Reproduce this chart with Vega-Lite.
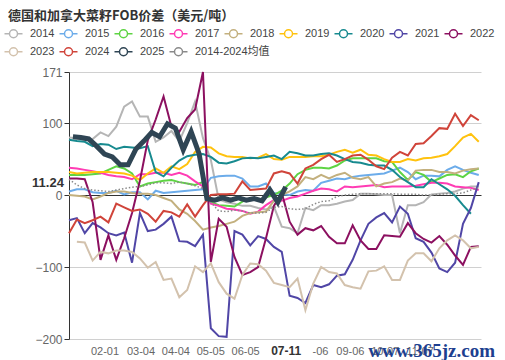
{
"$schema":"https://vega.github.io/schema/vega-lite/v6.json",
"width":412,"height":267,
"autosize":{"type":"none"},
"padding":{"left":69,"top":72,"right":24,"bottom":21},
"background":"white",
"title":{"text":"德国和加拿大菜籽FOB价差（美元/吨）","anchor":"start","frame":"group","dx":-61,"offset":5,"font":"Noto Sans CJK SC","fontSize":13,"fontWeight":"bold","color":"#333"},
"config":{"view":{"stroke":null},"font":"Liberation Sans","legend":{"orient":"none","direction":"horizontal","padding":0,"symbolType":"M-2.25,0H-1M1,0H2.25M-1,0A1,1,0,1,1,1,0A1,1,0,1,1,-1,0","symbolSize":64,"symbolStrokeWidth":1.5,"symbolFillColor":"white","labelFont":"Liberation Sans, Noto Sans CJK SC, sans-serif","labelFontSize":11,"labelColor":"#444","labelOffset":11,"columnPadding":1}},
"data":{"values":[
{"s":"2014","d":0,"v":80},{"s":"2014","d":7,"v":79},{"s":"2014","d":14,"v":77},{"s":"2014","d":21,"v":78},{"s":"2014","d":28,"v":87},{"s":"2014","d":35,"v":82},{"s":"2014","d":42,"v":95},{"s":"2014","d":49,"v":123},{"s":"2014","d":56,"v":130},{"s":"2014","d":63,"v":109},{"s":"2014","d":70,"v":109},{"s":"2014","d":77,"v":74},{"s":"2014","d":84,"v":80},{"s":"2014","d":91,"v":89},{"s":"2014","d":98,"v":75},{"s":"2014","d":105,"v":100},{"s":"2014","d":112,"v":130},{"s":"2014","d":119,"v":79},{"s":"2014","d":126,"v":49},{"s":"2014","d":133,"v":-6},{"s":"2014","d":140,"v":-10},{"s":"2014","d":147,"v":-12},{"s":"2014","d":154,"v":-15},{"s":"2014","d":161,"v":-15},{"s":"2014","d":168,"v":-18},{"s":"2014","d":175,"v":-20},{"s":"2014","d":182,"v":-16},{"s":"2014","d":189,"v":-44},{"s":"2014","d":196,"v":-46},{"s":"2014","d":203,"v":-53},{"s":"2014","d":210,"v":-18},{"s":"2014","d":217,"v":-21},{"s":"2014","d":224,"v":-14},{"s":"2014","d":231,"v":-14},{"s":"2014","d":238,"v":-12},{"s":"2014","d":245,"v":-9},{"s":"2014","d":252,"v":-7},{"s":"2014","d":259,"v":2},{"s":"2014","d":266,"v":2},{"s":"2014","d":273,"v":1},{"s":"2014","d":280,"v":0},{"s":"2014","d":287,"v":0},{"s":"2014","d":294,"v":-53},{"s":"2014","d":301,"v":-14},{"s":"2014","d":308,"v":-14},{"s":"2014","d":315,"v":-10},{"s":"2014","d":322,"v":1},{"s":"2014","d":329,"v":2},{"s":"2014","d":336,"v":3},{"s":"2014","d":343,"v":5},{"s":"2014","d":350,"v":9},{"s":"2014","d":357,"v":12},{"s":"2014","d":364,"v":12},
{"s":"2015","d":0,"v":5},{"s":"2015","d":7,"v":8},{"s":"2015","d":14,"v":8},{"s":"2015","d":21,"v":4},{"s":"2015","d":28,"v":3},{"s":"2015","d":35,"v":3},{"s":"2015","d":42,"v":6},{"s":"2015","d":49,"v":1},{"s":"2015","d":56,"v":4},{"s":"2015","d":63,"v":4},{"s":"2015","d":70,"v":-6},{"s":"2015","d":77,"v":6},{"s":"2015","d":84,"v":3},{"s":"2015","d":91,"v":4},{"s":"2015","d":98,"v":5},{"s":"2015","d":105,"v":6},{"s":"2015","d":112,"v":7},{"s":"2015","d":119,"v":8},{"s":"2015","d":126,"v":24},{"s":"2015","d":133,"v":26},{"s":"2015","d":140,"v":27},{"s":"2015","d":147,"v":27},{"s":"2015","d":154,"v":23},{"s":"2015","d":161,"v":12},{"s":"2015","d":168,"v":12},{"s":"2015","d":175,"v":16},{"s":"2015","d":182,"v":3},{"s":"2015","d":189,"v":1},{"s":"2015","d":196,"v":0},{"s":"2015","d":203,"v":5},{"s":"2015","d":210,"v":7},{"s":"2015","d":217,"v":6},{"s":"2015","d":224,"v":17},{"s":"2015","d":231,"v":20},{"s":"2015","d":238,"v":23},{"s":"2015","d":245,"v":22},{"s":"2015","d":252,"v":25},{"s":"2015","d":259,"v":27},{"s":"2015","d":266,"v":28},{"s":"2015","d":273,"v":29},{"s":"2015","d":280,"v":30},{"s":"2015","d":287,"v":34},{"s":"2015","d":294,"v":38},{"s":"2015","d":301,"v":32},{"s":"2015","d":308,"v":22},{"s":"2015","d":315,"v":27},{"s":"2015","d":322,"v":27},{"s":"2015","d":329,"v":26},{"s":"2015","d":336,"v":35},{"s":"2015","d":343,"v":40},{"s":"2015","d":350,"v":35},{"s":"2015","d":357,"v":31},{"s":"2015","d":364,"v":28},
{"s":"2016","d":0,"v":28},{"s":"2016","d":7,"v":28},{"s":"2016","d":14,"v":28},{"s":"2016","d":21,"v":29},{"s":"2016","d":28,"v":30},{"s":"2016","d":35,"v":35},{"s":"2016","d":42,"v":40},{"s":"2016","d":49,"v":37},{"s":"2016","d":56,"v":30},{"s":"2016","d":63,"v":12},{"s":"2016","d":70,"v":16},{"s":"2016","d":77,"v":18},{"s":"2016","d":84,"v":20},{"s":"2016","d":91,"v":21},{"s":"2016","d":98,"v":18},{"s":"2016","d":105,"v":16},{"s":"2016","d":112,"v":14},{"s":"2016","d":119,"v":18},{"s":"2016","d":126,"v":-10},{"s":"2016","d":133,"v":-14},{"s":"2016","d":140,"v":-15},{"s":"2016","d":147,"v":-16},{"s":"2016","d":154,"v":-9},{"s":"2016","d":161,"v":-5},{"s":"2016","d":168,"v":-7},{"s":"2016","d":175,"v":-3},{"s":"2016","d":182,"v":0},{"s":"2016","d":189,"v":6},{"s":"2016","d":196,"v":16},{"s":"2016","d":203,"v":29},{"s":"2016","d":210,"v":35},{"s":"2016","d":217,"v":38},{"s":"2016","d":224,"v":38},{"s":"2016","d":231,"v":37},{"s":"2016","d":238,"v":41},{"s":"2016","d":245,"v":48},{"s":"2016","d":252,"v":51},{"s":"2016","d":259,"v":51},{"s":"2016","d":266,"v":51},{"s":"2016","d":273,"v":51},{"s":"2016","d":280,"v":47},{"s":"2016","d":287,"v":46},{"s":"2016","d":294,"v":32},{"s":"2016","d":301,"v":21},{"s":"2016","d":308,"v":32},{"s":"2016","d":315,"v":28},{"s":"2016","d":322,"v":18},{"s":"2016","d":329,"v":23},{"s":"2016","d":336,"v":28},{"s":"2016","d":343,"v":29},{"s":"2016","d":350,"v":25},{"s":"2016","d":357,"v":33},{"s":"2016","d":364,"v":37},
{"s":"2017","d":0,"v":38},{"s":"2017","d":7,"v":37},{"s":"2017","d":14,"v":35},{"s":"2017","d":21,"v":33},{"s":"2017","d":28,"v":31},{"s":"2017","d":35,"v":28},{"s":"2017","d":42,"v":26},{"s":"2017","d":49,"v":25},{"s":"2017","d":56,"v":22},{"s":"2017","d":63,"v":29},{"s":"2017","d":70,"v":29},{"s":"2017","d":77,"v":31},{"s":"2017","d":84,"v":31},{"s":"2017","d":91,"v":28},{"s":"2017","d":98,"v":31},{"s":"2017","d":105,"v":27},{"s":"2017","d":112,"v":19},{"s":"2017","d":119,"v":12},{"s":"2017","d":126,"v":-12},{"s":"2017","d":133,"v":-15},{"s":"2017","d":140,"v":-19},{"s":"2017","d":147,"v":-20},{"s":"2017","d":154,"v":-22},{"s":"2017","d":161,"v":-26},{"s":"2017","d":168,"v":-23},{"s":"2017","d":175,"v":-14},{"s":"2017","d":182,"v":-7},{"s":"2017","d":189,"v":-8},{"s":"2017","d":196,"v":-4},{"s":"2017","d":203,"v":-2},{"s":"2017","d":210,"v":2},{"s":"2017","d":217,"v":6},{"s":"2017","d":224,"v":9},{"s":"2017","d":231,"v":8},{"s":"2017","d":238,"v":5},{"s":"2017","d":245,"v":12},{"s":"2017","d":252,"v":11},{"s":"2017","d":259,"v":12},{"s":"2017","d":266,"v":13},{"s":"2017","d":273,"v":14},{"s":"2017","d":280,"v":11},{"s":"2017","d":287,"v":12},{"s":"2017","d":294,"v":12},{"s":"2017","d":301,"v":12},{"s":"2017","d":308,"v":13},{"s":"2017","d":315,"v":15},{"s":"2017","d":322,"v":17},{"s":"2017","d":329,"v":17},{"s":"2017","d":336,"v":16},{"s":"2017","d":343,"v":12},{"s":"2017","d":350,"v":11},{"s":"2017","d":357,"v":10},{"s":"2017","d":364,"v":7},
{"s":"2018","d":0,"v":0},{"s":"2018","d":7,"v":-1},{"s":"2018","d":14,"v":-2},{"s":"2018","d":21,"v":-6},{"s":"2018","d":28,"v":-2},{"s":"2018","d":35,"v":3},{"s":"2018","d":42,"v":5},{"s":"2018","d":49,"v":5},{"s":"2018","d":56,"v":3},{"s":"2018","d":63,"v":2},{"s":"2018","d":70,"v":2},{"s":"2018","d":77,"v":0},{"s":"2018","d":84,"v":-4},{"s":"2018","d":91,"v":-8},{"s":"2018","d":98,"v":-20},{"s":"2018","d":105,"v":-26},{"s":"2018","d":112,"v":-36},{"s":"2018","d":119,"v":-48},{"s":"2018","d":126,"v":-45},{"s":"2018","d":133,"v":-43},{"s":"2018","d":140,"v":-40},{"s":"2018","d":147,"v":-37},{"s":"2018","d":154,"v":-29},{"s":"2018","d":161,"v":-25},{"s":"2018","d":168,"v":-24},{"s":"2018","d":175,"v":-23},{"s":"2018","d":182,"v":-8},{"s":"2018","d":189,"v":0},{"s":"2018","d":196,"v":5},{"s":"2018","d":203,"v":12},{"s":"2018","d":210,"v":25},{"s":"2018","d":217,"v":22},{"s":"2018","d":224,"v":28},{"s":"2018","d":231,"v":23},{"s":"2018","d":238,"v":28},{"s":"2018","d":245,"v":31},{"s":"2018","d":252,"v":24},{"s":"2018","d":259,"v":22},{"s":"2018","d":266,"v":25},{"s":"2018","d":273,"v":12},{"s":"2018","d":280,"v":16},{"s":"2018","d":287,"v":18},{"s":"2018","d":294,"v":23},{"s":"2018","d":301,"v":20},{"s":"2018","d":308,"v":34},{"s":"2018","d":315,"v":35},{"s":"2018","d":322,"v":35},{"s":"2018","d":329,"v":32},{"s":"2018","d":336,"v":32},{"s":"2018","d":343,"v":30},{"s":"2018","d":350,"v":34},{"s":"2018","d":357,"v":36},{"s":"2018","d":364,"v":37},
{"s":"2019","d":0,"v":32},{"s":"2019","d":7,"v":30},{"s":"2019","d":14,"v":31},{"s":"2019","d":21,"v":32},{"s":"2019","d":28,"v":32},{"s":"2019","d":35,"v":32},{"s":"2019","d":42,"v":31},{"s":"2019","d":49,"v":30},{"s":"2019","d":56,"v":27},{"s":"2019","d":63,"v":21},{"s":"2019","d":70,"v":30},{"s":"2019","d":77,"v":37},{"s":"2019","d":84,"v":31},{"s":"2019","d":91,"v":40},{"s":"2019","d":98,"v":36},{"s":"2019","d":105,"v":43},{"s":"2019","d":112,"v":60},{"s":"2019","d":119,"v":67},{"s":"2019","d":126,"v":66},{"s":"2019","d":133,"v":58},{"s":"2019","d":140,"v":54},{"s":"2019","d":147,"v":53},{"s":"2019","d":154,"v":53},{"s":"2019","d":161,"v":51},{"s":"2019","d":168,"v":52},{"s":"2019","d":175,"v":57},{"s":"2019","d":182,"v":50},{"s":"2019","d":189,"v":49},{"s":"2019","d":196,"v":53},{"s":"2019","d":203,"v":53},{"s":"2019","d":210,"v":53},{"s":"2019","d":217,"v":54},{"s":"2019","d":224,"v":54},{"s":"2019","d":231,"v":56},{"s":"2019","d":238,"v":60},{"s":"2019","d":245,"v":63},{"s":"2019","d":252,"v":59},{"s":"2019","d":259,"v":63},{"s":"2019","d":266,"v":56},{"s":"2019","d":273,"v":55},{"s":"2019","d":280,"v":50},{"s":"2019","d":287,"v":46},{"s":"2019","d":294,"v":46},{"s":"2019","d":301,"v":50},{"s":"2019","d":308,"v":48},{"s":"2019","d":315,"v":51},{"s":"2019","d":322,"v":52},{"s":"2019","d":329,"v":54},{"s":"2019","d":336,"v":57},{"s":"2019","d":343,"v":68},{"s":"2019","d":350,"v":80},{"s":"2019","d":357,"v":85},{"s":"2019","d":364,"v":74},
{"s":"2020","d":0,"v":77},{"s":"2020","d":7,"v":75},{"s":"2020","d":14,"v":74},{"s":"2020","d":21,"v":68},{"s":"2020","d":28,"v":71},{"s":"2020","d":35,"v":70},{"s":"2020","d":42,"v":64},{"s":"2020","d":49,"v":67},{"s":"2020","d":56,"v":66},{"s":"2020","d":63,"v":65},{"s":"2020","d":70,"v":68},{"s":"2020","d":77,"v":32},{"s":"2020","d":84,"v":26},{"s":"2020","d":91,"v":38},{"s":"2020","d":98,"v":48},{"s":"2020","d":105,"v":54},{"s":"2020","d":112,"v":56},{"s":"2020","d":119,"v":57},{"s":"2020","d":126,"v":53},{"s":"2020","d":133,"v":45},{"s":"2020","d":140,"v":44},{"s":"2020","d":147,"v":47},{"s":"2020","d":154,"v":51},{"s":"2020","d":161,"v":52},{"s":"2020","d":168,"v":51},{"s":"2020","d":175,"v":53},{"s":"2020","d":182,"v":55},{"s":"2020","d":189,"v":50},{"s":"2020","d":196,"v":60},{"s":"2020","d":203,"v":58},{"s":"2020","d":210,"v":55},{"s":"2020","d":217,"v":55},{"s":"2020","d":224,"v":57},{"s":"2020","d":231,"v":58},{"s":"2020","d":238,"v":55},{"s":"2020","d":245,"v":50},{"s":"2020","d":252,"v":46},{"s":"2020","d":259,"v":45},{"s":"2020","d":266,"v":42},{"s":"2020","d":273,"v":41},{"s":"2020","d":280,"v":41},{"s":"2020","d":287,"v":35},{"s":"2020","d":294,"v":25},{"s":"2020","d":301,"v":18},{"s":"2020","d":308,"v":11},{"s":"2020","d":315,"v":11},{"s":"2020","d":322,"v":22},{"s":"2020","d":329,"v":15},{"s":"2020","d":336,"v":8},{"s":"2020","d":343,"v":-1},{"s":"2020","d":350,"v":-14},{"s":"2020","d":357,"v":-26},
{"s":"2021","d":0,"v":-35},{"s":"2021","d":7,"v":-32},{"s":"2021","d":14,"v":-53},{"s":"2021","d":21,"v":-39},{"s":"2021","d":28,"v":-45},{"s":"2021","d":35,"v":-53},{"s":"2021","d":42,"v":-56},{"s":"2021","d":49,"v":-52},{"s":"2021","d":56,"v":-94},{"s":"2021","d":63,"v":-25},{"s":"2021","d":70,"v":-50},{"s":"2021","d":77,"v":-48},{"s":"2021","d":84,"v":-40},{"s":"2021","d":91,"v":-30},{"s":"2021","d":98,"v":-64},{"s":"2021","d":105,"v":-65},{"s":"2021","d":112,"v":-71},{"s":"2021","d":119,"v":-55},{"s":"2021","d":126,"v":-185},{"s":"2021","d":133,"v":-196},{"s":"2021","d":140,"v":-197},{"s":"2021","d":147,"v":-50},{"s":"2021","d":154,"v":-55},{"s":"2021","d":161,"v":-70},{"s":"2021","d":168,"v":-57},{"s":"2021","d":175,"v":-61},{"s":"2021","d":182,"v":-72},{"s":"2021","d":189,"v":-79},{"s":"2021","d":196,"v":-140},{"s":"2021","d":203,"v":-143},{"s":"2021","d":210,"v":-150},{"s":"2021","d":217,"v":-125},{"s":"2021","d":224,"v":-128},{"s":"2021","d":231,"v":-124},{"s":"2021","d":238,"v":-112},{"s":"2021","d":245,"v":-110},{"s":"2021","d":252,"v":-90},{"s":"2021","d":259,"v":-63},{"s":"2021","d":266,"v":-40},{"s":"2021","d":273,"v":-31},{"s":"2021","d":280,"v":-25},{"s":"2021","d":287,"v":-38},{"s":"2021","d":294,"v":-16},{"s":"2021","d":301,"v":-26},{"s":"2021","d":308,"v":-60},{"s":"2021","d":315,"v":-65},{"s":"2021","d":322,"v":-80},{"s":"2021","d":329,"v":-102},{"s":"2021","d":336,"v":-107},{"s":"2021","d":343,"v":-94},{"s":"2021","d":350,"v":-40},{"s":"2021","d":357,"v":-18},{"s":"2021","d":364,"v":18},
{"s":"2022","d":0,"v":23},{"s":"2022","d":7,"v":23},{"s":"2022","d":14,"v":22},{"s":"2022","d":21,"v":-10},{"s":"2022","d":28,"v":-90},{"s":"2022","d":35,"v":-56},{"s":"2022","d":42,"v":-90},{"s":"2022","d":49,"v":-60},{"s":"2022","d":56,"v":-25},{"s":"2022","d":63,"v":20},{"s":"2022","d":70,"v":76},{"s":"2022","d":77,"v":105},{"s":"2022","d":84,"v":137},{"s":"2022","d":91,"v":95},{"s":"2022","d":98,"v":88},{"s":"2022","d":105,"v":107},{"s":"2022","d":112,"v":119},{"s":"2022","d":119,"v":171},{"s":"2022","d":126,"v":-93},{"s":"2022","d":133,"v":-33},{"s":"2022","d":140,"v":-44},{"s":"2022","d":147,"v":-86},{"s":"2022","d":154,"v":-111},{"s":"2022","d":161,"v":-107},{"s":"2022","d":168,"v":-100},{"s":"2022","d":175,"v":-60},{"s":"2022","d":182,"v":-15},{"s":"2022","d":189,"v":3},{"s":"2022","d":196,"v":-37},{"s":"2022","d":203,"v":-55},{"s":"2022","d":210,"v":-46},{"s":"2022","d":217,"v":-49},{"s":"2022","d":224,"v":-43},{"s":"2022","d":231,"v":-58},{"s":"2022","d":238,"v":-67},{"s":"2022","d":245,"v":-67},{"s":"2022","d":252,"v":-42},{"s":"2022","d":259,"v":-63},{"s":"2022","d":266,"v":-75},{"s":"2022","d":273,"v":-75},{"s":"2022","d":280,"v":-56},{"s":"2022","d":287,"v":-57},{"s":"2022","d":294,"v":-58},{"s":"2022","d":301,"v":-39},{"s":"2022","d":308,"v":-53},{"s":"2022","d":315,"v":-61},{"s":"2022","d":322,"v":-66},{"s":"2022","d":329,"v":-57},{"s":"2022","d":336,"v":-69},{"s":"2022","d":343,"v":-84},{"s":"2022","d":350,"v":-97},{"s":"2022","d":357,"v":-72},{"s":"2022","d":364,"v":-71},
{"s":"2023","d":7,"v":-65},{"s":"2023","d":14,"v":-66},{"s":"2023","d":21,"v":-91},{"s":"2023","d":28,"v":-79},{"s":"2023","d":35,"v":-81},{"s":"2023","d":42,"v":-77},{"s":"2023","d":49,"v":-77},{"s":"2023","d":56,"v":-79},{"s":"2023","d":63,"v":-88},{"s":"2023","d":70,"v":-101},{"s":"2023","d":77,"v":-93},{"s":"2023","d":84,"v":-118},{"s":"2023","d":91,"v":-116},{"s":"2023","d":98,"v":-142},{"s":"2023","d":105,"v":-132},{"s":"2023","d":112,"v":-99},{"s":"2023","d":119,"v":-107},{"s":"2023","d":126,"v":-95},{"s":"2023","d":133,"v":-121},{"s":"2023","d":140,"v":-137},{"s":"2023","d":147,"v":-144},{"s":"2023","d":154,"v":-111},{"s":"2023","d":161,"v":-95},{"s":"2023","d":168,"v":-96},{"s":"2023","d":175,"v":-105},{"s":"2023","d":182,"v":-122},{"s":"2023","d":189,"v":-125},{"s":"2023","d":196,"v":-128},{"s":"2023","d":203,"v":-116},{"s":"2023","d":210,"v":-160},{"s":"2023","d":217,"v":-123},{"s":"2023","d":224,"v":-100},{"s":"2023","d":231,"v":-107},{"s":"2023","d":238,"v":-109},{"s":"2023","d":245,"v":-125},{"s":"2023","d":252,"v":-128},{"s":"2023","d":259,"v":-130},{"s":"2023","d":266,"v":-106},{"s":"2023","d":273,"v":-105},{"s":"2023","d":280,"v":-99},{"s":"2023","d":287,"v":-118},{"s":"2023","d":294,"v":-118},{"s":"2023","d":301,"v":-91},{"s":"2023","d":308,"v":-81},{"s":"2023","d":315,"v":-81},{"s":"2023","d":322,"v":-92},{"s":"2023","d":329,"v":-74},{"s":"2023","d":336,"v":-63},{"s":"2023","d":343,"v":-56},{"s":"2023","d":350,"v":-63},{"s":"2023","d":357,"v":-74},{"s":"2023","d":364,"v":-72},
{"s":"2024","d":0,"v":-53},{"s":"2024","d":7,"v":-34},{"s":"2024","d":14,"v":-39},{"s":"2024","d":21,"v":-35},{"s":"2024","d":28,"v":-30},{"s":"2024","d":35,"v":-38},{"s":"2024","d":42,"v":-12},{"s":"2024","d":49,"v":-17},{"s":"2024","d":56,"v":-22},{"s":"2024","d":63,"v":-20},{"s":"2024","d":70,"v":-26},{"s":"2024","d":77,"v":-37},{"s":"2024","d":84,"v":-22},{"s":"2024","d":91,"v":-24},{"s":"2024","d":98,"v":-30},{"s":"2024","d":105,"v":-13},{"s":"2024","d":112,"v":-30},{"s":"2024","d":119,"v":-14},{"s":"2024","d":126,"v":0},{"s":"2024","d":133,"v":1},{"s":"2024","d":140,"v":1},{"s":"2024","d":147,"v":2},{"s":"2024","d":154,"v":19},{"s":"2024","d":161,"v":7},{"s":"2024","d":168,"v":8},{"s":"2024","d":175,"v":9},{"s":"2024","d":182,"v":30},{"s":"2024","d":189,"v":33},{"s":"2024","d":196,"v":30},{"s":"2024","d":203,"v":16},{"s":"2024","d":210,"v":37},{"s":"2024","d":217,"v":42},{"s":"2024","d":224,"v":50},{"s":"2024","d":231,"v":56},{"s":"2024","d":238,"v":46},{"s":"2024","d":245,"v":50},{"s":"2024","d":252,"v":55},{"s":"2024","d":259,"v":56},{"s":"2024","d":266,"v":49},{"s":"2024","d":273,"v":40},{"s":"2024","d":280,"v":36},{"s":"2024","d":287,"v":52},{"s":"2024","d":294,"v":60},{"s":"2024","d":301,"v":55},{"s":"2024","d":308,"v":71},{"s":"2024","d":315,"v":72},{"s":"2024","d":322,"v":82},{"s":"2024","d":329,"v":93},{"s":"2024","d":336,"v":92},{"s":"2024","d":343,"v":113},{"s":"2024","d":350,"v":96},{"s":"2024","d":357,"v":111},{"s":"2024","d":364,"v":104},
{"s":"2014-2024均值","d":0,"v":22},{"s":"2014-2024均值","d":7,"v":14},{"s":"2014-2024均值","d":14,"v":9},{"s":"2014-2024均值","d":21,"v":7},{"s":"2014-2024均值","d":28,"v":6},{"s":"2014-2024均值","d":35,"v":5},{"s":"2014-2024均值","d":42,"v":7},{"s":"2014-2024均值","d":49,"v":9},{"s":"2014-2024均值","d":56,"v":11},{"s":"2014-2024均值","d":63,"v":12},{"s":"2014-2024均值","d":70,"v":14},{"s":"2014-2024均值","d":77,"v":17},{"s":"2014-2024均值","d":84,"v":17},{"s":"2014-2024均值","d":91,"v":16},{"s":"2014-2024均值","d":98,"v":18},{"s":"2014-2024均值","d":105,"v":16},{"s":"2014-2024均值","d":112,"v":13},{"s":"2014-2024均值","d":119,"v":9},{"s":"2014-2024均值","d":126,"v":-10},{"s":"2014-2024均值","d":133,"v":-22},{"s":"2014-2024均值","d":140,"v":-23},{"s":"2014-2024均值","d":147,"v":-21},{"s":"2014-2024均值","d":154,"v":-22},{"s":"2014-2024均值","d":161,"v":-25},{"s":"2014-2024均值","d":168,"v":-25},{"s":"2014-2024均值","d":175,"v":-24},{"s":"2014-2024均值","d":182,"v":-17},{"s":"2014-2024均值","d":189,"v":-16},{"s":"2014-2024均值","d":196,"v":-19},{"s":"2014-2024均值","d":203,"v":-20},{"s":"2014-2024均值","d":210,"v":-19},{"s":"2014-2024均值","d":217,"v":-13},{"s":"2014-2024均值","d":224,"v":-9},{"s":"2014-2024均值","d":231,"v":-8},{"s":"2014-2024均值","d":238,"v":-2},{"s":"2014-2024均值","d":245,"v":0},{"s":"2014-2024均值","d":252,"v":1},{"s":"2014-2024均值","d":259,"v":2},{"s":"2014-2024均值","d":266,"v":2},{"s":"2014-2024均值","d":273,"v":2},{"s":"2014-2024均值","d":280,"v":2},{"s":"2014-2024均值","d":287,"v":2},{"s":"2014-2024均值","d":294,"v":1},{"s":"2014-2024均值","d":301,"v":1},{"s":"2014-2024均值","d":308,"v":1},{"s":"2014-2024均值","d":315,"v":0},{"s":"2014-2024均值","d":322,"v":0},{"s":"2014-2024均值","d":329,"v":1},{"s":"2014-2024均值","d":336,"v":2},{"s":"2014-2024均值","d":343,"v":2},{"s":"2014-2024均值","d":350,"v":3},{"s":"2014-2024均值","d":357,"v":7},{"s":"2014-2024均值","d":364,"v":10},
{"s":"2025","d":3.5,"v":81},{"s":"2025","d":10.5,"v":80},{"s":"2025","d":17.5,"v":78},{"s":"2025","d":24.5,"v":68},{"s":"2025","d":31.5,"v":57},{"s":"2025","d":38.5,"v":53},{"s":"2025","d":45.5,"v":42},{"s":"2025","d":52.5,"v":42},{"s":"2025","d":59.5,"v":64},{"s":"2025","d":66.5,"v":75},{"s":"2025","d":73.5,"v":87},{"s":"2025","d":80.5,"v":81},{"s":"2025","d":87.5,"v":99},{"s":"2025","d":94.5,"v":93},{"s":"2025","d":101.5,"v":63},{"s":"2025","d":108.5,"v":88},{"s":"2025","d":115.5,"v":58},{"s":"2025","d":122.5,"v":-5},{"s":"2025","d":129.5,"v":-7},{"s":"2025","d":136.5,"v":-4},{"s":"2025","d":143.5,"v":-7},{"s":"2025","d":150.5,"v":-4},{"s":"2025","d":157.5,"v":-7},{"s":"2025","d":164.5,"v":-5},{"s":"2025","d":171.5,"v":-8},{"s":"2025","d":178.5,"v":7},{"s":"2025","d":185.5,"v":-10},{"s":"2025","d":192.5,"v":11.24}
]},
"encoding":{
 "x":{"field":"d","type":"quantitative","title":null,"scale":{"domain":[0,366],"nice":false,"zero":false},
  "axis":{"values":[31.5,63.5,94.5,125.5,156.5,192.5,223,249.5,280.5,311.5],"domain":false,"ticks":false,"grid":false,"labelPadding":6,"labelOverlap":false,"labelFontSize":{"condition":{"test":"datum.value == 192.5","value":12},"value":11},"labelColor":{"condition":{"test":"datum.value == 192.5","value":"#333"},"value":"#666"},"labelFontWeight":{"condition":{"test":"datum.value == 192.5","value":"bold"},"value":"normal"},
  "labelExpr":"datum.value < 40 ? '02-01' : datum.value < 70 ? '03-04' : datum.value < 100 ? '04-04' : datum.value < 130 ? '05-05' : datum.value < 160 ? '06-05' : datum.value < 200 ? '07-11' : datum.value < 230 ? '-06' : datum.value < 260 ? '09-06' : datum.value < 290 ? '10-07' : '11-07'"}},
 "y":{"field":"v","type":"quantitative","title":null,"scale":{"domain":[-200,171],"nice":false,"zero":false},
  "axis":{"values":[-200,-100,0,100,171],"domainColor":"#333","tickColor":"#333","tickSize":5,"labelPadding":2,"labelFontSize":12,"labelColor":"#666","grid":true,"gridColor":{"condition":{"test":"datum.value === 0","value":"#333"},"value":"#d0d0d0"}}}
},
"layer":[
 {"transform":[{"filter":"indexof(['2014','2015','2016','2017','2018','2019','2020','2021','2022'], datum.s) >= 0"}],"mark":{"type":"line","strokeWidth":2},
  "encoding":{"color":{"field":"s","type":"nominal","title":null,
   "scale":{"domain":["2014","2015","2016","2017","2018","2019","2020","2021","2022"],"range":["#b5b5b5","#6cacea","#5ed443","#ff3cb4","#c3b07e","#ffc20e","#178a8f","#5046a6","#8c1060"]},
   "legend":{"legendX":-61,"legendY":-44,"columns":9}}}},
 {"encoding":{"color":{"field":"s","type":"nominal","title":null,
   "scale":{"domain":["2023","2024","2025","2014-2024均值"],"range":["#d3c2ad","#d0443a","#2f4554","#8a8a8a"]},
   "legend":{"legendX":-61,"legendY":-26,"columns":4}}},
  "layer":[
   {"transform":[{"filter":"datum.s == '2023' || datum.s == '2024'"}],"mark":{"type":"line","strokeWidth":2}},
   {"transform":[{"filter":"datum.s == '2014-2024均值'"}],"mark":{"type":"line","strokeWidth":1.5,"strokeDash":[1.5,2]}},
   {"transform":[{"filter":"datum.s == '2025'"}],"mark":{"type":"line","strokeWidth":5}}
  ]},
 {"data":{"values":[{"d":0,"v":11.24,"t":"11.24"}]},"mark":{"type":"text","dx":-21,"dy":-4,"align":"center","baseline":"middle","fontSize":13,"fontWeight":"bold","color":"#333"},"encoding":{"text":{"field":"t"},"color":{"value":"#333"}}},
 {"data":{"values":[{"d":366,"v":-200,"t":"www.365jz.com"}]},"mark":{"type":"text","dx":14,"dy":12,"align":"right","baseline":"middle","fontSize":19,"font":"Liberation Serif","fontWeight":"bold","color":"#1d3f8f"},"encoding":{"text":{"field":"t"},"color":{"value":"#1d3f8f"}}}
],
"resolve":{"scale":{"color":"independent"}}
}
